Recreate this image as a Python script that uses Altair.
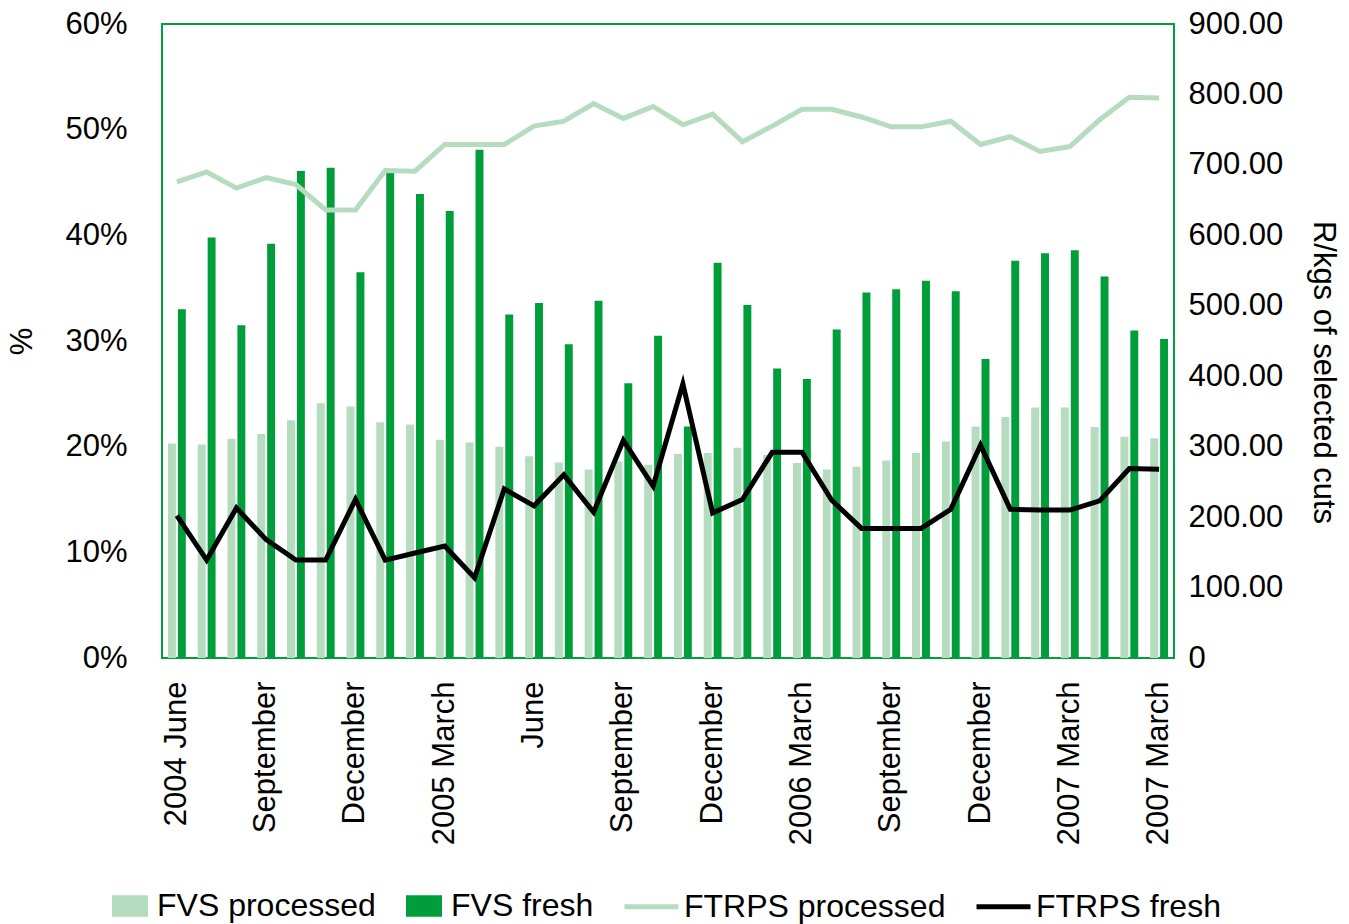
import json

import altair as alt
import pandas as pd

# Monthly observations, June 2004 onwards (34 periods)
periods = list(range(34))
tick_positions = [0, 3, 6, 9, 12, 15, 18, 21, 24, 27, 30, 33]
tick_labels = ["2004 June", "September", "December", "2005 March", "June",
               "September", "December", "2006 March", "September",
               "December", "2007 March", "2007 March"]

# Shares (%) - left axis
fvs_processed = [20.3, 20.2, 20.75, 21.2, 22.5, 24.1, 23.8, 22.3, 22.1, 20.65,
                 20.4, 20.0, 19.1, 18.5, 17.85, 18.6, 18.3, 19.3, 19.4, 19.9,
                 19.2, 18.45, 17.85, 18.1, 18.7, 19.4, 20.5, 21.9, 22.8, 23.7,
                 23.7, 21.85, 20.95, 20.8]
fvs_fresh = [33.0, 39.8, 31.5, 39.2, 46.1, 46.4, 36.5, 45.9, 43.9, 42.3,
             48.1, 32.5, 33.6, 29.7, 33.8, 26.0, 30.5, 21.9, 37.4, 33.4,
             27.4, 26.4, 31.1, 34.6, 34.9, 35.7, 34.7, 28.3, 37.6, 38.3,
             38.6, 36.1, 31.0, 30.2]

# Prices (R/kg) - right axis
ftrps_processed = [676, 690, 667, 682, 672, 636, 636, 692, 691, 729,
                   729, 729, 755, 762, 787, 766, 783, 757, 772, 733,
                   755, 779, 779, 768, 754, 754, 762, 729, 740, 719,
                   726, 764, 796, 795]
ftrps_fresh = [202, 139, 213, 168, 139, 139, 225, 139, 149, 159,
               114, 240, 216, 260, 207, 309, 244, 389, 206, 225,
               292, 292, 224, 184, 184, 184, 211, 302, 211, 210,
               210, 223, 269, 268]

bar_series = ["FVS processed", "FVS fresh"]
line_series = ["FTRPS processed", "FTRPS fresh"]

LIGHT = "#b5dcbf"
DARK = "#009e3b"
BLACK = "#000000"
FRAME = "#00a03c"
FONT = "Liberation Sans"

n = len(periods)
bars_df = pd.DataFrame({
    "period": periods * 2,
    "series": [bar_series[0]] * n + [bar_series[1]] * n,
    "share": fvs_processed + fvs_fresh,
})
lines_df = pd.DataFrame({
    "period": periods * 2,
    "series": [line_series[0]] * n + [line_series[1]] * n,
    "price": ftrps_processed + ftrps_fresh,
})

label_lookup = [""] * n
for pos, lab in zip(tick_positions, tick_labels):
    label_lookup[pos] = lab
x_label_expr = json.dumps(label_lookup) + "[datum.value]"

x_enc = alt.X(
    "period:O",
    scale=alt.Scale(paddingInner=0.4, paddingOuter=0.2),
    axis=alt.Axis(
        title=None, values=tick_positions, labelExpr=x_label_expr,
        labelAngle=270, labelAlign="right", labelBaseline="middle",
        labelPadding=23, ticks=False, domain=False, labelFontSize=31,
        labelFont=FONT, labelColor=BLACK, labelLimit=400,
    ),
)

bars = alt.Chart(bars_df).mark_bar().encode(
    x=x_enc,
    xOffset=alt.XOffset(
        "series:N", sort=bar_series,
        scale=alt.Scale(domain=bar_series, paddingInner=0.2, paddingOuter=0),
    ),
    y=alt.Y(
        "share:Q",
        scale=alt.Scale(domain=[0, 60], nice=False),
        axis=alt.Axis(
            title="%", values=[0, 10, 20, 30, 40, 50, 60],
            labelExpr="datum.value + '%'", grid=False, ticks=False,
            domain=False, labelPadding=35, labelFontSize=31, labelFont=FONT,
            labelColor=BLACK, titleFont=FONT, titleFontSize=31,
            titleFontWeight="normal", titleColor=BLACK, titleAngle=270,
            titleAlign="center", titleBaseline="middle",
            titleX=-140, titleY=317,
        ),
    ),
    fill=alt.Fill(
        "series:N",
        scale=alt.Scale(domain=bar_series, range=[LIGHT, DARK]),
        legend=alt.Legend(
            title=None, orient="none", direction="horizontal",
            legendX=-50, legendY=864, padding=0,
            symbolType="M-1,-0.6H1V0.6H-1Z", symbolSize=1296,
            symbolStrokeWidth=0, labelOffset=9, columnPadding=30,
            labelFont=FONT, labelFontSize=32, labelColor=BLACK,
            labelLimit=400,
        ),
    ),
)

lines = alt.Chart(lines_df).mark_line(
    strokeWidth=5, strokeJoin="miter", strokeCap="butt"
).encode(
    x=alt.X("period:O"),
    y=alt.Y(
        "price:Q",
        scale=alt.Scale(domain=[0, 900], nice=False),
        axis=alt.Axis(
            title="R/kgs of selected cuts", orient="right",
            values=[0, 100, 200, 300, 400, 500, 600, 700, 800, 900],
            labelExpr="datum.value == 0 ? '0' : format(datum.value, '.2f')",
            grid=False, ticks=False, domain=False, labelPadding=14,
            labelFontSize=31, labelFont=FONT, labelColor=BLACK,
            titleFont=FONT, titleFontSize=31, titleFontWeight="normal",
            titleColor=BLACK, titleAngle=90, titleAlign="center",
            titleBaseline="middle", titleX=148, titleY=348,
        ),
    ),
    stroke=alt.Stroke(
        "series:N",
        scale=alt.Scale(domain=line_series, range=[LIGHT, BLACK]),
        legend=alt.Legend(
            title=None, orient="none", direction="horizontal",
            legendX=460, legendY=853, padding=0,
            symbolType="stroke", symbolSize=2916, symbolStrokeWidth=5,
            labelOffset=3, columnPadding=20,
            labelFont=FONT, labelFontSize=32, labelColor=BLACK,
            labelLimit=400,
        ),
    ),
)

chart = (
    alt.layer(bars, lines)
    .resolve_scale(y="independent", fill="independent", stroke="independent")
    .properties(
        width=1012,
        height=634,
        autosize=alt.AutoSizeParams(type="none"),
        padding={"left": 162, "top": 24, "right": 175, "bottom": 266},
        background="white",
    )
    .configure_view(stroke=FRAME, strokeWidth=2)
)

chart.save("out.html", embed_options={"renderer": "svg", "actions": False})
